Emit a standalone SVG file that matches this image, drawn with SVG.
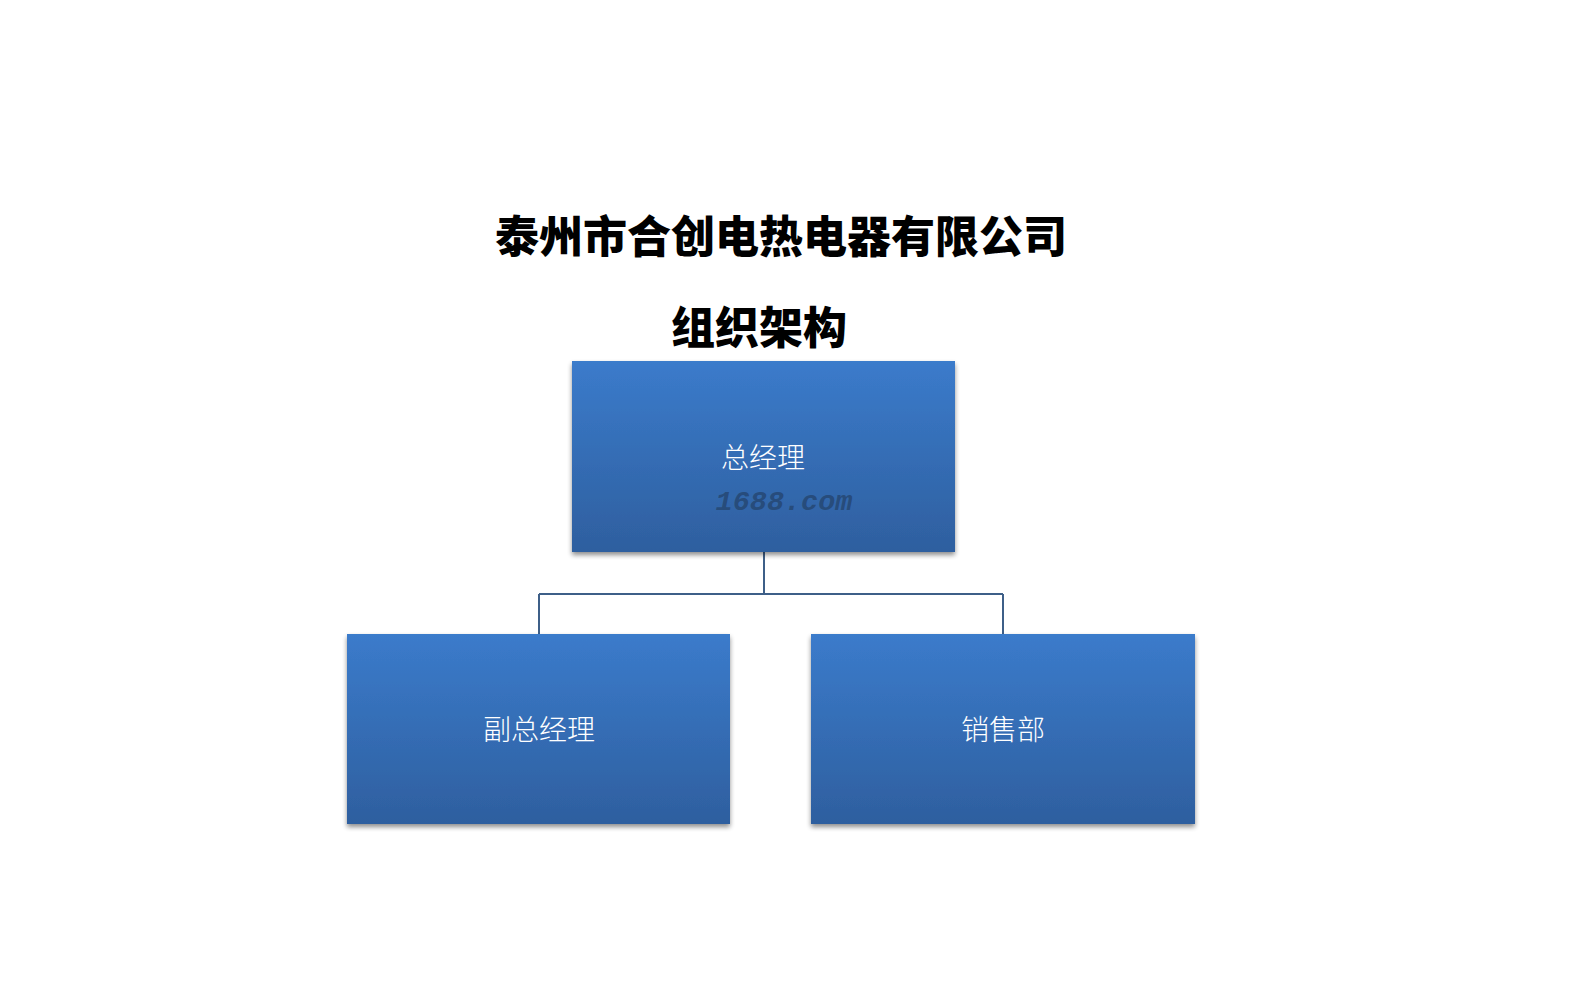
<svg xmlns="http://www.w3.org/2000/svg" width="1571" height="999" viewBox="0 0 1571 999">
<defs>
<linearGradient id="g" x1="0" y1="0" x2="0" y2="1">
<stop offset="0" stop-color="#3b7bcb"/>
<stop offset="1" stop-color="#2e5f9f"/>
</linearGradient>
<filter id="sh" x="-5%" y="-5%" width="110%" height="120%">
<feGaussianBlur in="SourceAlpha" stdDeviation="2.5"/>
<feOffset dx="0" dy="3" result="b"/>
<feComponentTransfer><feFuncA type="linear" slope="0.45"/></feComponentTransfer>
<feMerge><feMergeNode/><feMergeNode in="SourceGraphic"/></feMerge>
</filter>
</defs>
<style>
.title{font-family:"Noto Sans CJK SC",sans-serif;font-weight:900;fill:#000;text-anchor:middle}
.box{fill:url(#g);filter:url(#sh)}
.lbl{font-family:"Noto Sans CJK SC",sans-serif;font-weight:300;font-size:28px;fill:#ffffff;text-anchor:middle}
.wm{font-family:"Liberation Mono",monospace;font-style:italic;font-weight:bold;font-size:28.5px;fill:#24456f;fill-opacity:0.8;text-anchor:middle}
.conn{fill:none;stroke:#3e5f88;stroke-width:2}
</style>
<rect width="1571" height="999" fill="#ffffff"/>
<g id="title">
<text class="title" x="781" y="253" font-size="44">泰州市合创电热电器有限公司</text>
<text class="title" x="759" y="344" font-size="44">组织架构</text>
</g>
<g id="connectors">
<path class="conn" d="M764 552 V594 M539 594 H1003 M539 594 V634 M1003 594 V634"/>
</g>
<g id="n1">
<rect class="box" x="572" y="361" width="383" height="191"/>
<text class="lbl" x="763" y="468">总经理</text>
<text class="wm" x="784" y="510">1688.com</text>
</g>
<g id="n2">
<rect class="box" x="347" y="634" width="383" height="190"/>
<text class="lbl" x="539" y="740">副总经理</text>
</g>
<g id="n3">
<rect class="box" x="811" y="634" width="384" height="190"/>
<text class="lbl" x="1003" y="740">销售部</text>
</g>
</svg>
